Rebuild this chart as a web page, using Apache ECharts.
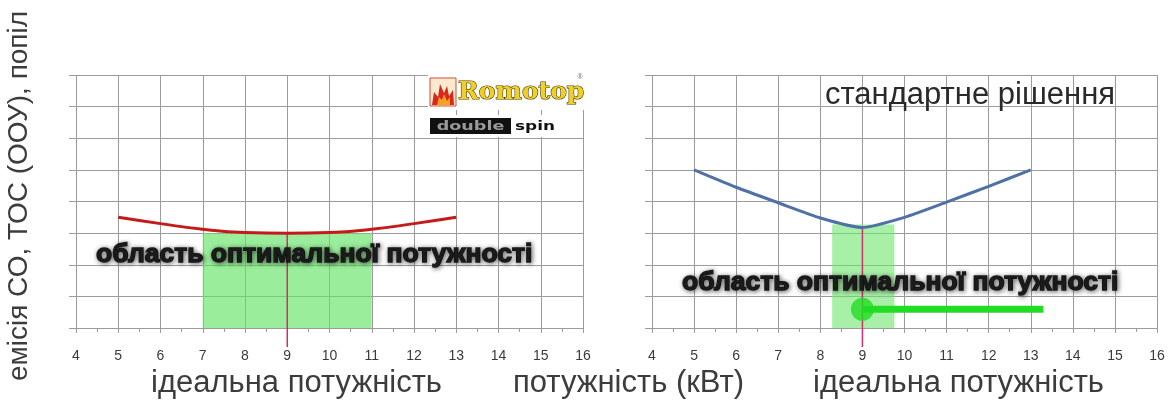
<!DOCTYPE html>
<html>
<head>
<meta charset="utf-8">
<script src="https://cdn.jsdelivr.net/npm/echarts@6/dist/echarts.min.js"></script>
<style>
html,body{margin:0;padding:0;background:#fff;}
#chart{width:1169px;height:400px;}
</style>
</head>
<body>
<div id="chart"></div>
<script>
// ---- data ----
const xMin = 4, xMax = 16;
const yMin = 0, yMax = 8;
const leftX = [5, 6, 7, 8, 9, 10, 11, 12, 13];
const leftY = [3.5, 3.3, 3.12, 3.02, 3.0, 3.02, 3.12, 3.3, 3.5];
const rightX = [5, 6, 7, 8, 9, 10, 11, 12, 13];
const rightY = [5.0, 4.45, 3.96, 3.48, 3.18, 3.5, 3.98, 4.48, 5.0];
const leftZone = [7, 11, 0, 3];        // x0, x1, y0, y1
const rightZone = [8.28, 9.76, 0, 3.27];
const idealPower = 9;
const leftIdealTop = 3.0, rightIdealTop = 3.2, idealBottom = -0.6;
const rightMarkY = 0.59, rightMarkEnd = 13.3;

const txtRegionLabel = 'область оптимальної потужності';
const txtIdeal = 'ідеальна потужність';
const txtPower = 'потужність (кВт)';
const txtStandard = 'стандартне рішення';
const txtYName = 'емісія СО, ТОС (ООУ), попіл';

const gridColor = '#9c9c9c';

function pairs(xs, ys) { return xs.map((x, i) => [x, ys[i]]); }

function mkX(gi) {
  return {
    type: 'value', gridIndex: gi, min: xMin, max: xMax, interval: 1,
    axisLine: { show: true, lineStyle: { color: gridColor, width: 1 } },
    axisTick: { show: true, length: 5, lineStyle: { color: gridColor } },
    minorTick: { show: true, splitNumber: 2, length: 4, lineStyle: { color: gridColor } },
    splitLine: { show: true, lineStyle: { color: gridColor, width: 1 } },
    axisLabel: { color: '#3a3a3a', fontSize: 14, margin: 21, fontFamily: 'Liberation Sans', showMinLabel: true, showMaxLabel: true }
  };
}
function mkY(gi) {
  return {
    type: 'value', gridIndex: gi, min: yMin, max: yMax, interval: 1,
    axisLine: { show: false },
    axisTick: { show: true, length: 7, lineStyle: { color: gridColor } },
    axisLabel: { show: false },
    splitLine: { show: true, lineStyle: { color: gridColor, width: 1 } }
  };
}

const chart = echarts.init(document.getElementById('chart'));

const regionLabelStyle = (x, y) => ({
  type: 'text', x: x, y: y, z: 50,
  style: {
    text: txtRegionLabel, fill: '#1a1a1a', stroke: '#1a1a1a', lineWidth: 1.4,
    font: 'bold 26.5px "Liberation Sans"',
    textAlign: 'left', textVerticalAlign: 'middle',
    textShadowColor: 'rgba(0,0,0,0.55)', textShadowBlur: 5, textShadowOffsetX: 1, textShadowOffsetY: 1,
    shadowColor: 'rgba(0,0,0,0.55)', shadowBlur: 5, shadowOffsetX: 1, shadowOffsetY: 1
  }
});

const option = {
  animation: false,
  backgroundColor: '#ffffff',
  grid: [
    { left: 76, top: 75, width: 507, height: 253 },
    { left: 652, top: 75, width: 505, height: 253 }
  ],
  xAxis: [mkX(0), mkX(1)],
  yAxis: [mkY(0), mkY(1)],
  series: [
    // left green zone
    {
      type: 'line', xAxisIndex: 0, yAxisIndex: 0, data: [], silent: true,
      markArea: {
        silent: true,
        itemStyle: { color: 'rgba(100,228,100,0.65)' },
        data: [[{ coord: [leftZone[0], leftZone[2]] }, { coord: [leftZone[1], leftZone[3]] }]]
      }
    },
    // left red curve
    {
      type: 'line', xAxisIndex: 0, yAxisIndex: 0, smooth: true, symbol: 'none',
      data: pairs(leftX, leftY),
      lineStyle: { color: '#c41a1a', width: 3 }, z: 5
    },
    // left ideal marker line
    {
      type: 'line', xAxisIndex: 0, yAxisIndex: 0, symbol: 'none', clip: false,
      data: [[idealPower, leftIdealTop], [idealPower, idealBottom]],
      lineStyle: { color: '#cc3070', width: 1.5 }, z: 4
    },
    // right green zone
    {
      type: 'line', xAxisIndex: 1, yAxisIndex: 1, data: [], silent: true,
      markArea: {
        silent: true,
        itemStyle: { color: 'rgba(110,230,110,0.6)' },
        data: [[{ coord: [rightZone[0], rightZone[2]] }, { coord: [rightZone[1], rightZone[3]] }]]
      }
    },
    // right blue curve
    {
      type: 'line', xAxisIndex: 1, yAxisIndex: 1, smooth: 0.2, symbol: 'none',
      data: pairs(rightX, rightY),
      lineStyle: { color: '#4f71a6', width: 3 }, z: 5
    },
    // right ideal marker line
    {
      type: 'line', xAxisIndex: 1, yAxisIndex: 1, symbol: 'none', clip: false,
      data: [[idealPower, rightIdealTop], [idealPower, idealBottom]],
      lineStyle: { color: '#cc3070', width: 1.5 }, z: 4
    },
    // right green bar
    {
      type: 'line', xAxisIndex: 1, yAxisIndex: 1, symbol: 'none',
      data: [[idealPower, rightMarkY], [rightMarkEnd, rightMarkY]],
      lineStyle: { color: '#22dd22', width: 7 }, z: 6
    },
    // right green dot
    {
      type: 'scatter', xAxisIndex: 1, yAxisIndex: 1, symbol: 'circle', symbolSize: 23,
      data: [[idealPower, rightMarkY]],
      itemStyle: { color: '#22dd22' }, z: 7
    }
  ],
  graphic: [
    // Y title
    {
      type: 'text', x: 19, y: 196, rotation: Math.PI / 2,
      style: { text: txtYName, fill: '#3c3c3c', font: '28px "Liberation Sans"', textAlign: 'center', textVerticalAlign: 'middle' }
    },
    // bottom titles
    { type: 'text', x: 151, y: 383, style: { text: txtIdeal, fill: '#3c3c3c', font: '31px "Liberation Sans"', textAlign: 'left', textVerticalAlign: 'middle' } },
    { type: 'text', x: 513, y: 383, style: { text: txtPower, fill: '#3c3c3c', font: '31px "Liberation Sans"', textAlign: 'left', textVerticalAlign: 'middle' } },
    { type: 'text', x: 813, y: 383, style: { text: txtIdeal, fill: '#3c3c3c', font: '31px "Liberation Sans"', textAlign: 'left', textVerticalAlign: 'middle' } },
    // standard solution
    { type: 'text', x: 825, y: 95, z: 50, style: { text: txtStandard, fill: '#2a2a2a', font: '31px "Liberation Sans"', textAlign: 'left', textVerticalAlign: 'middle' } },
    // region labels
    regionLabelStyle(96, 255),
    regionLabelStyle(682, 283),
    // logo backgrounds
    { type: 'rect', z: 40, shape: { x: 428, y: 75, width: 156, height: 35 }, style: { fill: '#ffffff' } },
    { type: 'rect', z: 40, shape: { x: 428, y: 115, width: 142, height: 22 }, style: { fill: '#ffffff' } },
    // flame icon
    { type: 'rect', z: 41, shape: { x: 430, y: 78, width: 26, height: 28 }, style: { fill: '#fbe9d0', stroke: '#d05030', lineWidth: 1 } },
    { type: 'polygon', z: 42, shape: { points: [[432, 105], [434, 92], [438, 97], [440, 84], [444, 93], [447, 86], [449, 96], [453, 90], [454, 105]] }, style: { fill: '#d8281c' } },
    { type: 'polygon', z: 43, shape: { points: [[437, 105], [439, 97], [442, 100], [444, 94], [447, 101], [450, 97], [450, 105]] }, style: { fill: '#f4a020' } },
    // Romotop
    { type: 'text', z: 44, x: 458, y: 92, style: { text: 'Romotop', fill: '#f0d028', stroke: '#4a3a00', lineWidth: 1.2, font: 'bold 25px "DejaVu Serif"', textAlign: 'left', textVerticalAlign: 'middle' } },
    { type: 'text', z: 44, x: 580, y: 77, style: { text: '®', fill: '#666', font: '7px "Liberation Sans"', textAlign: 'center', textVerticalAlign: 'middle' } },
    // double spin badge
    { type: 'rect', z: 44, shape: { x: 430, y: 118, width: 81, height: 16 }, style: { fill: '#111111' } },
    { type: 'text', z: 45, x: 470.5, y: 126.5, scaleX: 1.35, style: { text: 'double', fill: '#9a9a9a', font: 'bold 13px "DejaVu Sans"', textAlign: 'center', textVerticalAlign: 'middle' } },
    { type: 'text', z: 45, x: 515, y: 126.5, scaleX: 1.3, style: { text: 'spin', fill: '#111111', font: 'bold 13px "DejaVu Sans"', textAlign: 'left', textVerticalAlign: 'middle' } }
  ]
};
chart.setOption(option);
</script>
</body>
</html>
